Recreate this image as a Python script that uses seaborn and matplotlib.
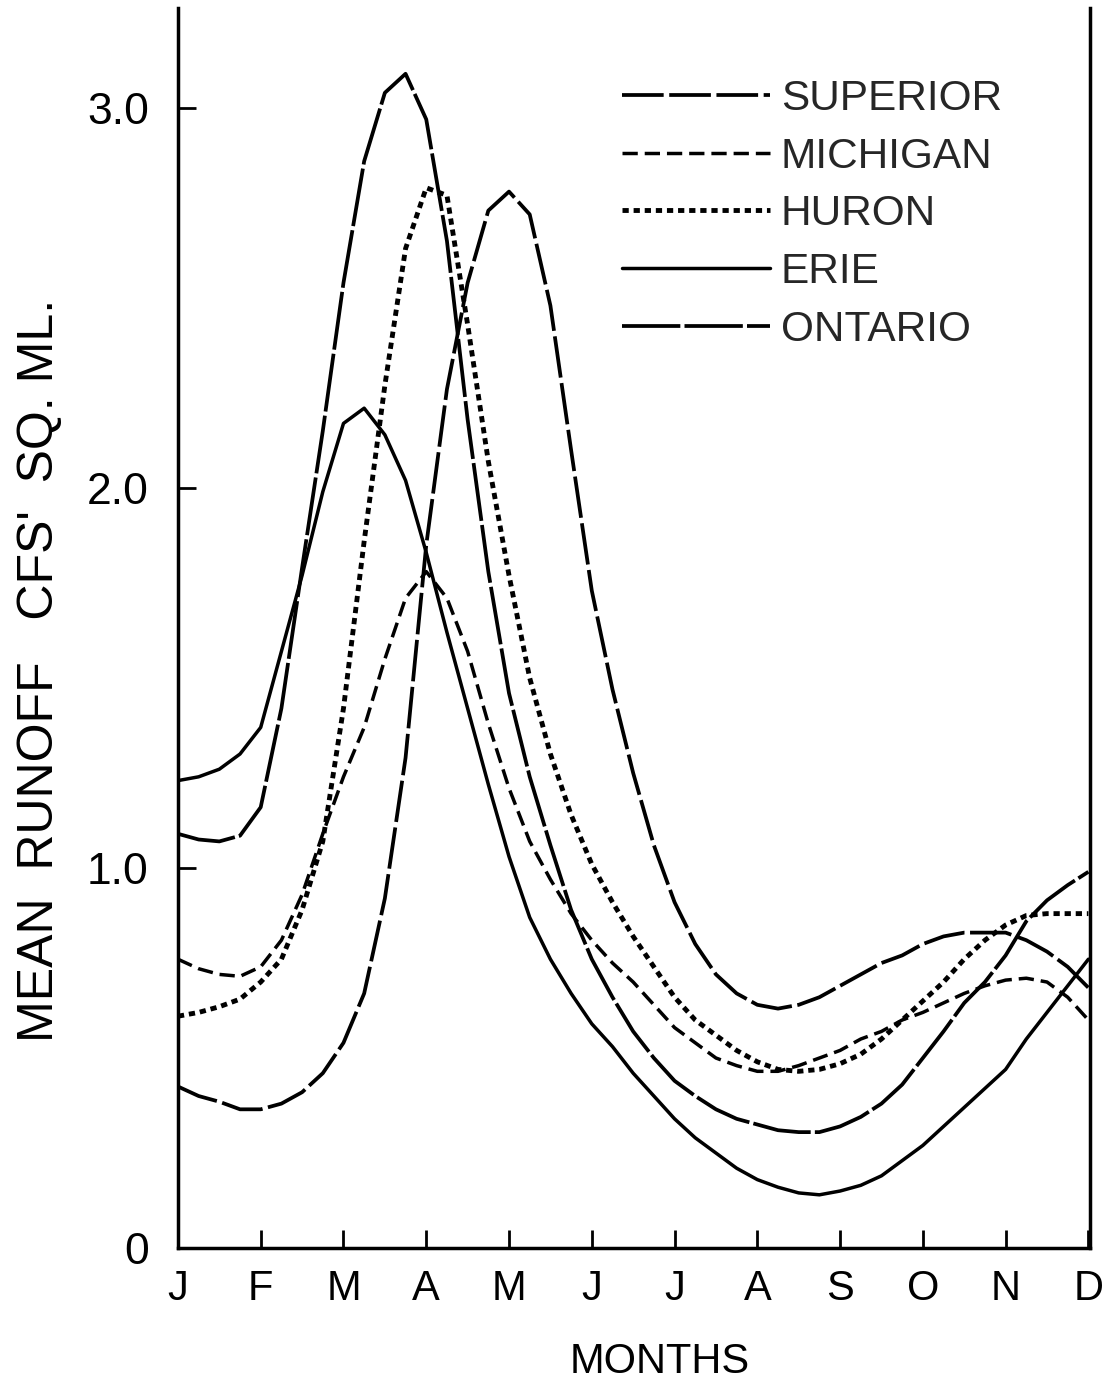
import numpy as np
import pandas as pd
import matplotlib
matplotlib.use("Agg")
import matplotlib.pyplot as plt
import seaborn as sns

# sample points every quarter month (J = 0 ... D = 11)
month_pos = np.arange(45) / 4
month_labels = ['J', 'F', 'M', 'A', 'M', 'J', 'J', 'A', 'S', 'O', 'N', 'D']

superior = [0.425, 0.40, 0.385, 0.365, 0.365, 0.38, 0.41, 0.46, 0.54, 0.67, 0.92, 1.29,
            1.85, 2.26, 2.54, 2.73, 2.78, 2.72, 2.48, 2.10, 1.73, 1.47, 1.25, 1.06,
            0.91, 0.80, 0.72, 0.67, 0.64, 0.63, 0.64, 0.66, 0.69, 0.72, 0.75, 0.77,
            0.80, 0.82, 0.83, 0.83, 0.83, 0.81, 0.78, 0.74, 0.685]
michigan = [0.76, 0.735, 0.72, 0.715, 0.74, 0.81, 0.93, 1.09, 1.24, 1.37, 1.55, 1.71,
            1.78, 1.71, 1.57, 1.38, 1.21, 1.07, 0.97, 0.88, 0.81, 0.75, 0.70, 0.64,
            0.58, 0.54, 0.50, 0.48, 0.465, 0.465, 0.48, 0.50, 0.52, 0.55, 0.57, 0.60,
            0.62, 0.645, 0.67, 0.69, 0.705, 0.71, 0.70, 0.66, 0.60]
huron = [0.61, 0.62, 0.635, 0.655, 0.70, 0.76, 0.89, 1.07, 1.42, 1.86, 2.27, 2.63,
         2.79, 2.77, 2.43, 2.07, 1.77, 1.50, 1.30, 1.14, 1.01, 0.91, 0.82, 0.74,
         0.66, 0.60, 0.56, 0.52, 0.49, 0.47, 0.465, 0.47, 0.485, 0.51, 0.55, 0.60,
         0.65, 0.70, 0.76, 0.81, 0.85, 0.875, 0.88, 0.88, 0.88]
erie = [1.23, 1.24, 1.26, 1.30, 1.37, 1.57, 1.77, 1.99, 2.17, 2.21, 2.14, 2.02,
        1.83, 1.62, 1.42, 1.22, 1.03, 0.87, 0.76, 0.67, 0.59, 0.53, 0.46, 0.40,
        0.34, 0.29, 0.25, 0.21, 0.18, 0.16, 0.145, 0.14, 0.15, 0.165, 0.19, 0.23,
        0.27, 0.32, 0.37, 0.42, 0.47, 0.55, 0.62, 0.69, 0.76]
ontario = [1.09, 1.075, 1.07, 1.085, 1.16, 1.42, 1.79, 2.15, 2.54, 2.86, 3.04, 3.09,
           2.97, 2.65, 2.18, 1.78, 1.46, 1.24, 1.06, 0.89, 0.76, 0.66, 0.57, 0.50,
           0.44, 0.40, 0.365, 0.34, 0.325, 0.31, 0.305, 0.305, 0.32, 0.345, 0.38, 0.43,
           0.50, 0.57, 0.645, 0.70, 0.77, 0.86, 0.915, 0.955, 0.99]

sns.set_theme(style="ticks")
plt.rcParams['font.family'] = ['Liberation Sans', 'DejaVu Sans']
plt.rcParams['lines.scale_dashes'] = False

fig, ax = plt.subplots(figsize=(11.08, 13.87), dpi=100)
fig.subplots_adjust(left=0.1606, right=0.9838, bottom=0.1002, top=0.9942)

series = [
    ('SUPERIOR', superior, (30, 4), 2.7),
    ('MICHIGAN', michigan, (11, 5), 2.5),
    ('HURON', huron, (4.5, 3.5), 3.5),
    ('ERIE', erie, None, 2.5),
    ('ONTARIO', ontario, (42, 3), 2.7),
]

handles = []
for name, vals, dash, lw in series:
    df = pd.DataFrame({'month': month_pos, 'runoff': vals})
    sns.lineplot(data=df, x='month', y='runoff', ax=ax, color='black',
                 linewidth=lw, legend=False)
    line = ax.lines[-1]
    line.set_dash_capstyle('butt')
    line.set_solid_joinstyle('round')
    line.set_dash_joinstyle('round')
    if dash is not None:
        line.set_dashes(dash)
    handles.append(line)

ax.set_xlim(0, 11.02)
ax.set_ylim(0, 3.263)
ax.set_xticks(range(12))
ax.set_xticklabels(month_labels)
ax.set_yticks([0, 1, 2, 3])
ax.set_yticklabels(['0', '1.0', '2.0', '3.0'])
ax.tick_params(axis='both', direction='in', length=13, width=2, color='black',
               labelcolor='black')
ax.tick_params(axis='y', pad=21, labelsize=32)
ax.tick_params(axis='x', pad=15, labelsize=30)

ax.spines['top'].set_visible(False)
for side in ['left', 'right', 'bottom']:
    ax.spines[side].set_linewidth(2.5)
    ax.spines[side].set_color('black')

ax.set_xlabel('MONTHS', fontsize=30, color='black')
ax.xaxis.set_label_coords(0.528, -0.076)
ax.xaxis.label.set_va('top')
ax.set_ylabel("MEAN  RUNOFF   CFS'  SQ. ML.", fontsize=36, color='black')
ax.yaxis.set_label_coords(-0.126, 0.466)

ax.legend(handles, [s[0] for s in series], loc='upper left',
          bbox_to_anchor=(0.487, 0.943), frameon=False, fontsize=30.5,
          handlelength=3.5, handletextpad=0.25, labelspacing=0.42,
          borderpad=0, borderaxespad=0)

fig.savefig('out.png', dpi=100, facecolor='white')
